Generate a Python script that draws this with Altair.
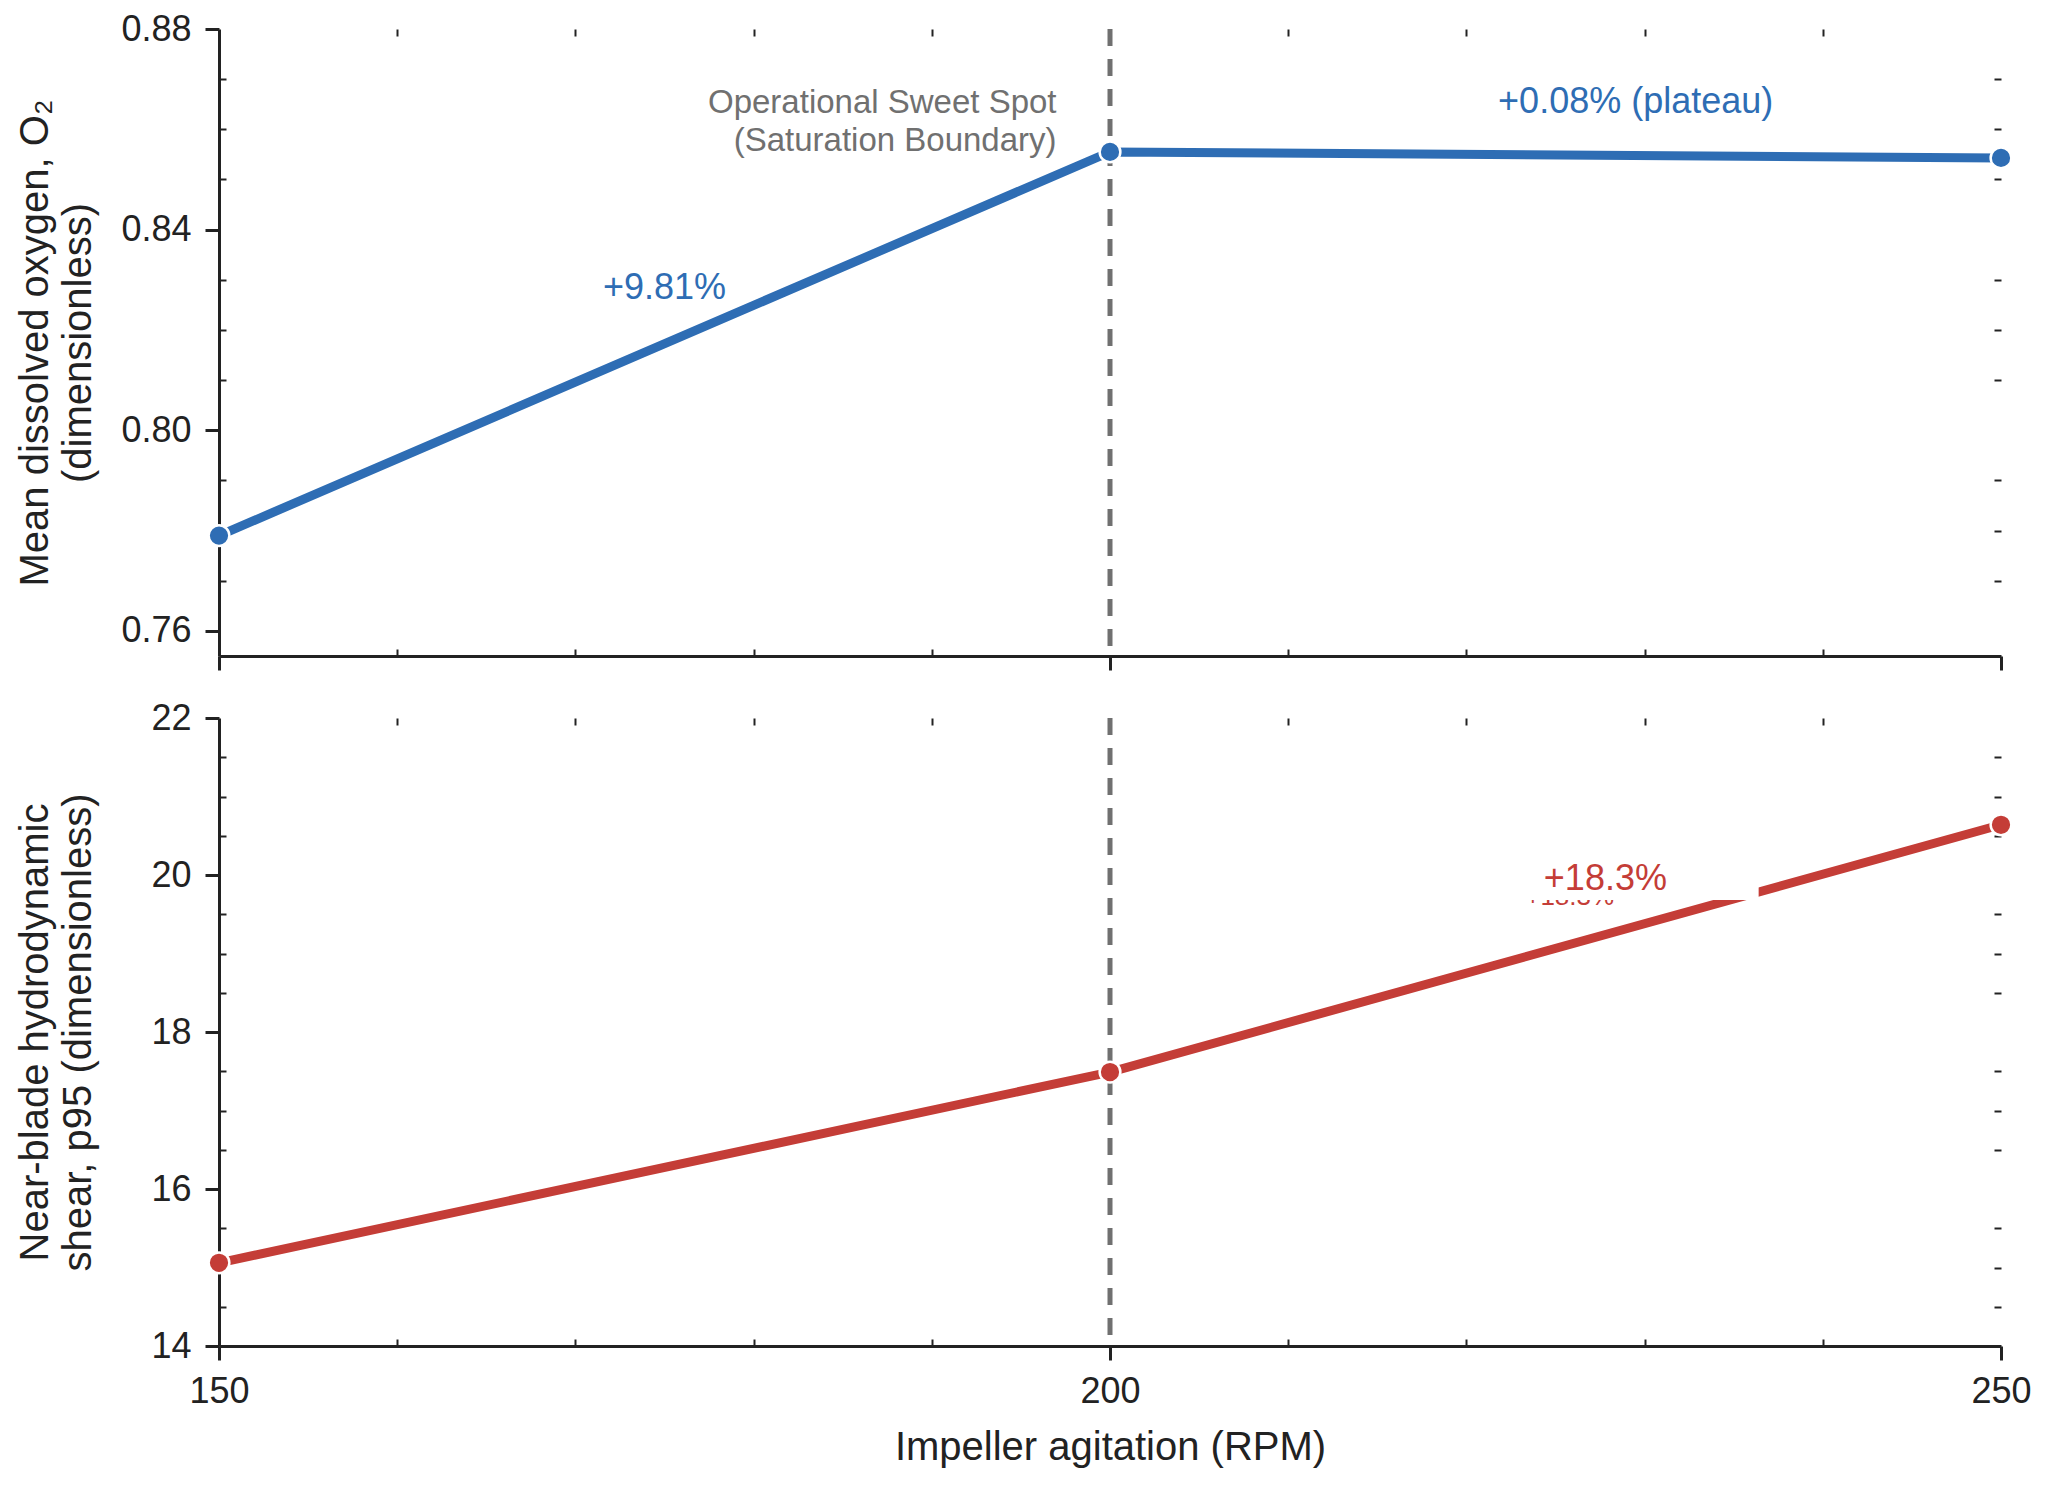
import altair as alt
import pandas as pd

rpm = [150, 200, 250]
dissolved_oxygen = [0.779, 0.8555, 0.8543]
blade_shear = [15.06, 17.49, 20.64]
sweet_spot_rpm = [200]

x_major = [150, 200, 250]
x_minor = [160, 170, 180, 190, 210, 220, 230, 240]
o2_major = [0.76, 0.80, 0.84, 0.88]
o2_minor = [0.77, 0.78, 0.79, 0.81, 0.82, 0.83, 0.85, 0.86, 0.87]
shear_major = [14, 16, 18, 20, 22]
shear_minor = [14.5, 15, 15.5, 16.5, 17, 17.5, 18.5, 19, 19.5, 20.5, 21, 21.5]

o2_note_text = ["+9.81%", "+0.08% (plateau)"]
o2_note_rpm = [175, 229.5]
o2_note_value = [0.8283, 0.8655]

sweet_note_text = ["Operational Sweet Spot", "(Saturation Boundary)"]
sweet_note_rpm = [197, 197]
sweet_note_value = [0.8653, 0.8577]

shear_note_text = ["+18.3%"]
shear_note_rpm = [227.8]
shear_note_value = [19.95]

BLUE = "#2e6db4"
RED = "#c43d37"
GREY = "#707070"
INK = "#222222"
FONT = "Liberation Sans"

x_scale = alt.Scale(domain=[150, 250], nice=False, zero=False)


def major_axis(orient, values, fmt, labels=True, title_pad=14):
    return alt.Axis(orient=orient, values=values, format=fmt, labels=labels,
                    tickSize=14, tickWidth=3, tickColor=INK,
                    domainColor=INK, domainWidth=3, grid=False,
                    labelFontSize=36, labelColor=INK, labelPadding=14,
                    labelFlush=False,
                    titleFontSize=40, titleColor=INK, titleFontWeight="normal",
                    titleLineHeight=43, titlePadding=title_pad)


def minor_axis(orient, values):
    return alt.Axis(orient=orient, values=values, offset=-7, tickSize=7,
                    tickWidth=2, tickColor=INK, domain=False, labels=False,
                    grid=False)


def panel(values, color, y_title, y_domain, y_fmt, y_major, y_minor,
          show_x, title_pad):
    df = pd.DataFrame({"rpm": rpm, "value": values})
    y_scale = alt.Scale(domain=y_domain, nice=False, zero=False)

    if show_x:
        x_main = alt.X("rpm:Q", scale=x_scale, title="Impeller agitation (RPM)",
                       axis=major_axis("bottom", x_major, "d", title_pad=18))
    else:
        x_main = alt.X("rpm:Q", scale=x_scale, title=None,
                       axis=major_axis("bottom", x_major, "d", labels=False))

    base = alt.Chart(df)
    rule = alt.Chart(pd.DataFrame({"rpm": sweet_spot_rpm})).mark_rule(
        color=GREY, strokeWidth=5, strokeDash=[17, 13]
    ).encode(x=alt.X("rpm:Q", scale=x_scale, axis=None))

    line = base.mark_line(color=color, strokeWidth=9).encode(
        x=x_main,
        y=alt.Y("value:Q", scale=y_scale, title=y_title,
                axis=major_axis("left", y_major, y_fmt, title_pad=title_pad)),
    )
    points = base.mark_circle(size=430, color=color, opacity=1,
                              stroke="white", strokeWidth=2.5).encode(
        x=alt.X("rpm:Q", scale=x_scale, axis=None),
        y=alt.Y("value:Q", scale=y_scale, axis=None),
    )
    ticks_in = base.mark_point(opacity=0).encode(
        x=alt.X("rpm:Q", scale=x_scale, title=None, axis=minor_axis("bottom", x_minor)),
        y=alt.Y("value:Q", scale=y_scale, title=None, axis=minor_axis("left", y_minor)),
    )
    ticks_mirror = base.mark_point(opacity=0).encode(
        x=alt.X("rpm:Q", scale=x_scale, title=None, axis=minor_axis("top", x_minor)),
        y=alt.Y("value:Q", scale=y_scale, title=None, axis=minor_axis("right", y_minor)),
    )
    return [rule, line, points, ticks_in, ticks_mirror], y_scale


def note(text, xs, ys, y_scale, color, size, align="center", baseline="middle"):
    df = pd.DataFrame({"rpm": xs, "value": ys, "label": text})
    return alt.Chart(df).mark_text(
        color=color, fontSize=size, font=FONT, align=align, baseline=baseline
    ).encode(
        x=alt.X("rpm:Q", scale=x_scale, axis=None),
        y=alt.Y("value:Q", scale=y_scale, axis=None),
        text="label:N",
    )


top_layers, top_y = panel(dissolved_oxygen, BLUE,
                          ["Mean dissolved oxygen, O₂", "(dimensionless)"],
                          [0.755, 0.88], ".2f", o2_major, o2_minor,
                          show_x=False, title_pad=22)
top_layers += [
    note(o2_note_text, o2_note_rpm, o2_note_value, top_y, BLUE, 36),
    note(sweet_note_text, sweet_note_rpm, sweet_note_value, top_y, GREY, 33,
         align="right"),
]
top = alt.layer(*top_layers).resolve_axis(x="independent", y="independent") \
    .properties(width=1782, height=627)

bot_layers, bot_y = panel(blade_shear, RED,
                          ["Near-blade hydrodynamic", "shear, p95 (dimensionless)"],
                          [14, 22], "d", shear_major, shear_minor,
                          show_x=True, title_pad=52)

# label box drawn over the line (white patch with a clipped duplicate beneath)
patch = alt.Chart(pd.DataFrame({"x0": [223.0], "x1": [236.4],
                                "y0": [19.68], "y1": [20.3]})).mark_rect(
    color="white", opacity=1
).encode(
    x=alt.X("x0:Q", scale=x_scale, axis=None), x2="x1:Q",
    y=alt.Y("y0:Q", scale=bot_y, axis=None), y2="y1:Q",
)
ghost = note(shear_note_text, [223.3], [19.62], bot_y, RED, 26,
             align="left", baseline="alphabetic")
bot_layers += [
    ghost,
    patch,
    note(shear_note_text, shear_note_rpm, shear_note_value, bot_y, RED, 36),
]
bottom = alt.layer(*bot_layers).resolve_axis(x="independent", y="independent") \
    .properties(width=1782, height=628)

chart = alt.vconcat(top, bottom, spacing=62, bounds="flush").properties(
    padding={"left": 7, "top": 3, "right": 0, "bottom": 6}
).configure(font=FONT).configure_view(stroke=None)

chart.save("out.html", embed_options={"renderer": "svg", "actions": False})
